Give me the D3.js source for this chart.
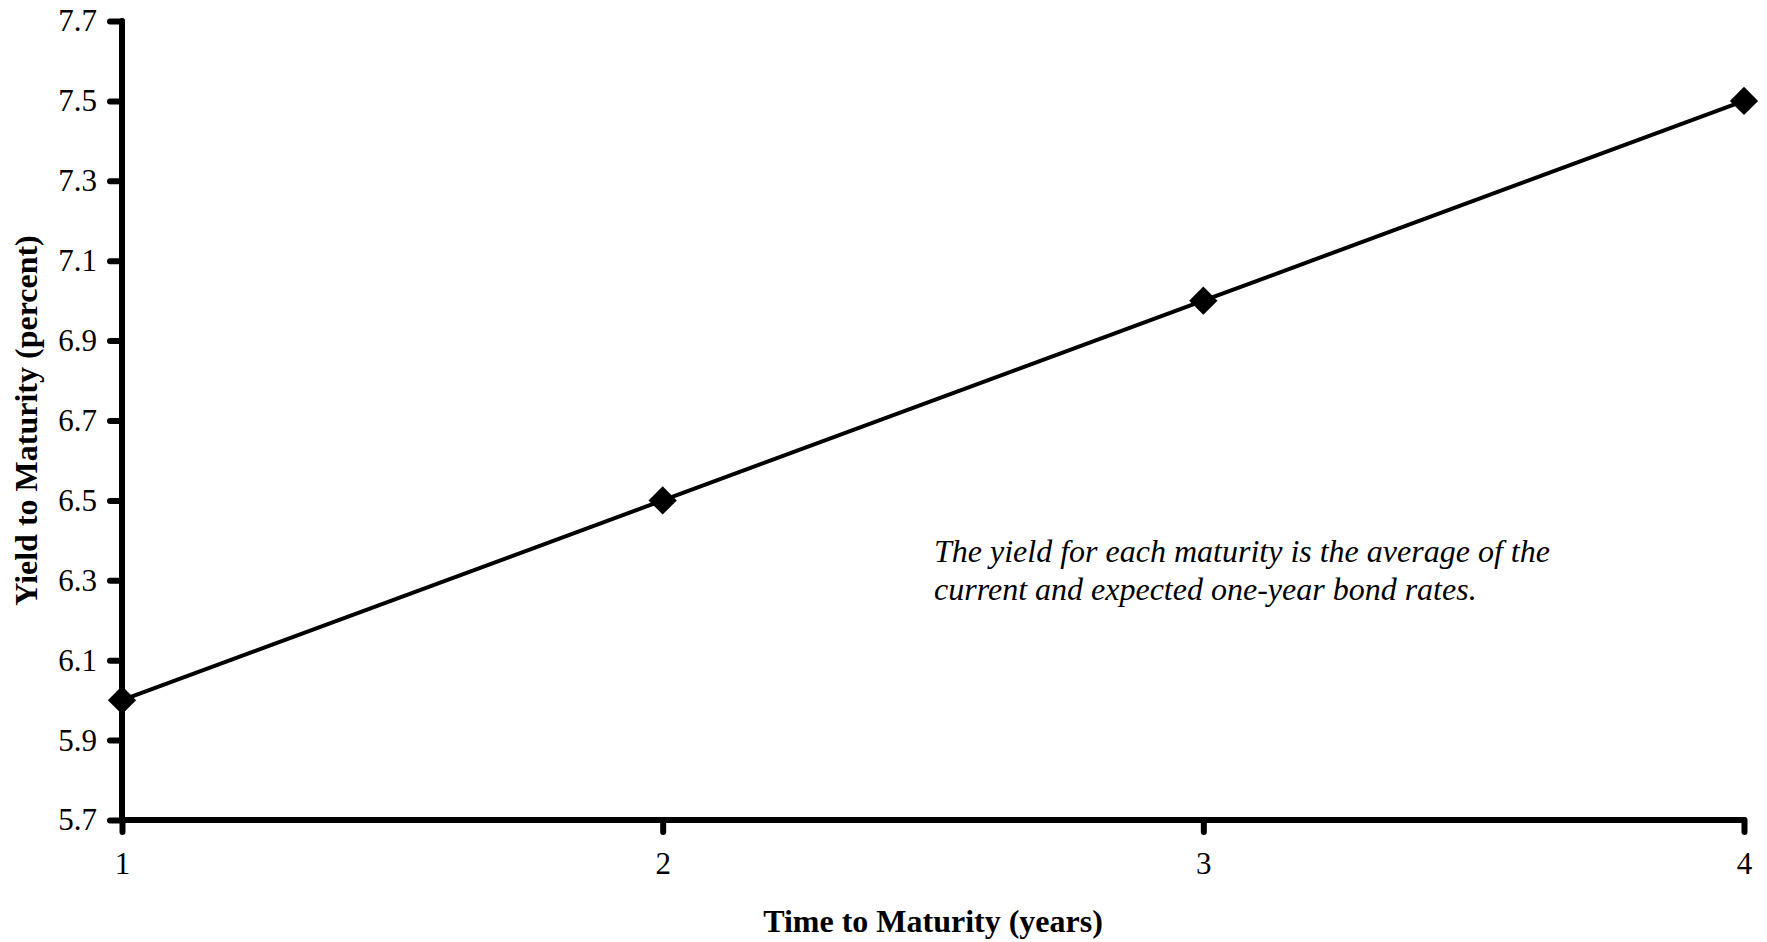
<!DOCTYPE html>
<html><head><meta charset="utf-8">
<script src="https://cdn.jsdelivr.net/npm/d3@7"></script>
<style>body{margin:0;background:#fff}svg{display:block}</style>
</head><body>
<script>
const maturities = [1, 2, 3, 4];
const yields = [6.0, 6.5, 7.0, 7.5];
const yTicks = [5.7, 5.9, 6.1, 6.3, 6.5, 6.7, 6.9, 7.1, 7.3, 7.5, 7.7];
const xTicks = [1, 2, 3, 4];
const xTitle = "Time to Maturity (years)";
const yTitle = "Yield to Maturity (percent)";
const noteLines = ["The yield for each maturity is the average of the", "current and expected one-year bond rates."];

const W = 1767, H = 942;
const svg = d3.select("body").append("svg").attr("width", W).attr("height", H);
const font = "'Liberation Serif','Times New Roman',serif";

const x = d3.scaleLinear().domain([1, 4]).range([122, 1744]);
const y = d3.scaleLinear().domain([5.7, 7.7]).range([820, 21]);

// y axis
const yAx = svg.append("g").attr("transform", `translate(${x(1)},0)`)
  .call(d3.axisLeft(y).tickValues(yTicks).tickFormat(d3.format(".1f")).tickSize(12).tickPadding(13));
yAx.select(".domain").remove();
yAx.selectAll(".tick line").attr("stroke", "#000").attr("stroke-width", 6).attr("stroke-linecap", "round");
yAx.selectAll("text").attr("font-family", font).attr("font-size", 31).attr("fill", "#000");

// x axis
const xAx = svg.append("g").attr("transform", `translate(0,${y(5.7)})`)
  .call(d3.axisBottom(x).tickValues(xTicks).tickFormat(d3.format("d")).tickSize(12).tickPadding(20));
xAx.select(".domain").remove();
xAx.selectAll(".tick line").attr("stroke", "#000").attr("stroke-width", 6).attr("stroke-linecap", "round");
xAx.selectAll("text").attr("font-family", font).attr("font-size", 31).attr("fill", "#000");

// axis lines
svg.append("line").attr("x1", x(1)).attr("x2", x(1)).attr("y1", y(7.7)).attr("y2", y(5.7))
  .attr("stroke", "#000").attr("stroke-width", 6).attr("stroke-linecap", "round");
svg.append("line").attr("x1", x(1)).attr("x2", x(4)).attr("y1", y(5.7)).attr("y2", y(5.7))
  .attr("stroke", "#000").attr("stroke-width", 6).attr("stroke-linecap", "round");

// line
const data = maturities.map((m, i) => ({m, v: yields[i]}));
svg.append("path").datum(data)
  .attr("d", d3.line().x(d => x(d.m)).y(d => y(d.v)))
  .attr("fill", "none").attr("stroke", "#000").attr("stroke-width", 4);

// diamonds
svg.selectAll(".pt").data(data).join("path")
  .attr("transform", d => `translate(${x(d.m)},${y(d.v)}) rotate(45)`)
  .attr("d", d3.symbol().type(d3.symbolSquare).size(400))
  .attr("fill", "#000");

// titles
svg.append("text").attr("x", (x(1) + x(4)) / 2).attr("y", 932)
  .attr("text-anchor", "middle").attr("font-family", font).attr("font-weight", "bold")
  .attr("font-size", 32).text(xTitle);
svg.append("text").attr("transform", `translate(37,${(y(5.7) + y(7.7)) / 2}) rotate(-90)`)
  .attr("text-anchor", "middle").attr("font-family", font).attr("font-weight", "bold")
  .attr("font-size", 32).text(yTitle);

// note
const note = svg.append("text").attr("font-family", font).attr("font-style", "italic").attr("font-size", 32);
noteLines.forEach((t, i) => note.append("tspan").attr("x", 934).attr("y", 562 + i * 38).text(t));
</script>
</body></html>
